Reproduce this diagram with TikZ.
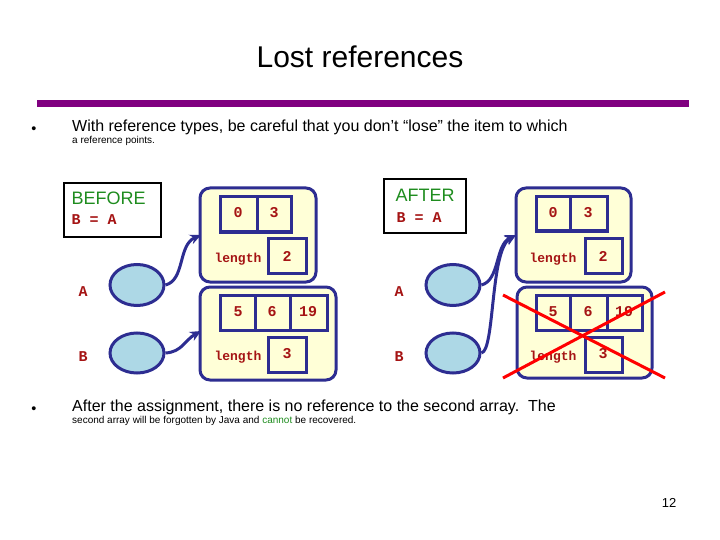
\documentclass[tikz,border=0pt]{standalone}
\usepackage{fontspec}
\setmainfont{Liberation Sans}
\setmonofont{Liberation Mono}
\usetikzlibrary{arrows.meta,shapes.geometric}
\definecolor{dred}{RGB}{165,20,20}
\definecolor{dblue}{RGB}{45,45,145}
\definecolor{fillY}{RGB}{255,255,215}
\definecolor{fillB}{RGB}{173,216,230}
\definecolor{dgreen}{RGB}{30,140,30}
\definecolor{purp}{RGB}{128,0,128}
\begin{document}
\begin{tikzpicture}[x=1pt,y=-1pt,
  outer/.style={draw=dblue,line width=3pt,fill=fillY,rounded corners=10pt},
  cellbox/.style={draw=dblue,line width=3pt},
  val/.style={font=\ttfamily\bfseries\fontsize{15}{17}\selectfont,text=dred},
  lenf/.style={font=\ttfamily\bfseries\fontsize{13}{15}\selectfont,text=dred},
  ov/.style={draw=dblue,line width=3pt,fill=fillB},
  arr/.style={draw=dblue,line width=3pt,-{Stealth[length=11pt,width=10pt]}},
  lbl/.style={draw=black,line width=1.6pt,fill=white}]
\useasboundingbox (0,0) rectangle (720,540);
\node (title) at (360,57) {\fontsize{30}{34}\selectfont Lost references};
\draw[purp,line width=7pt] (37,104) -- (689,104);
\node (b1) at (34,130) {\Large\textbullet};
\node[anchor=north west,align=left,inner sep=0pt] (t1) at (72,120) {\fontsize{16}{19.5}\selectfont With reference types, be careful that you don't “lose” the item to which\\ a reference points.};
\node (b2) at (34,410) {\Large\textbullet};
\node[anchor=north west,align=left,inner sep=0pt] (t2) at (72,400) {\fontsize{16}{19.5}\selectfont After the assignment, there is no reference to the second array.\ \ The\\ second array will be forgotten by Java and \textcolor{dgreen}{cannot} be recovered.};
\node (pg) at (669,503) {\fontsize{13}{15}\selectfont 12};
% BEFORE
\draw[lbl] (64,183) rectangle (161,237);
\node[text=dgreen,font=\fontsize{18}{20}\selectfont,anchor=west] (bef) at (68,198) {BEFORE};
\node[val,anchor=west] (bea) at (68,220) {B = A};
\draw[outer] (200,188) rectangle (316,282);
\draw[cellbox] (220,197) rectangle (257,232) (257,197) rectangle (291,232) (268,238) rectangle (306,273);
\node[val] at (238,213) {0};\node[val] at (274,213) {3};\node[val] at (287,256) {2};
\node[lenf] at (238,259) {length};
\draw[outer] (200,287) rectangle (336,380);
\draw[cellbox] (220,295) rectangle (255,330) (255,295) rectangle (290,330) (290,295) rectangle (327,330) (268,337) rectangle (306,372);
\node[val] at (238,312) {5};\node[val] at (272,312) {6};\node[val] at (308,312) {19};\node[val] at (287,354) {3};
\node[lenf] at (238,357) {length};
\node[ov,ellipse,minimum width=54pt,minimum height=41pt,inner sep=0pt] (eA) at (137,285) {};
\node[ov,ellipse,minimum width=54pt,minimum height=40pt,inner sep=0pt] (eB) at (137,353) {};
\node[val] at (83,292) {A};\node[val] at (83,357) {B};
\coordinate (tA) at (201,235);\coordinate (tB) at (201,331);
\draw[arr] (eA.east) .. controls (185,280) and (178,245) .. (tA);
\draw[arr] (eB.east) .. controls (182,352) and (185,340) .. (tB);
% AFTER
\draw[lbl] (384,179) rectangle (466,233);
\node[text=dgreen,font=\fontsize{18}{20}\selectfont] (aft) at (425,195) {AFTER};
\node[val] (aba) at (419,218) {B = A};
\draw[outer] (516,188) rectangle (631,282);
\draw[cellbox] (536,197) rectangle (570,231) (570,197) rectangle (607,231) (585,238) rectangle (622,273);
\node[val] at (553,213) {0};\node[val] at (588,213) {3};\node[val] at (603,256) {2};
\node[lenf] at (553,259) {length};
\draw[outer] (517,287) rectangle (652,378);
\draw[cellbox] (536,295) rectangle (570,330) (570,295) rectangle (607,330) (607,295) rectangle (642,330) (585,337) rectangle (622,372);
\node[val] at (553,312) {5};\node[val] at (588,312) {6};\node[val] at (624,312) {19};\node[val] at (603,354) {3};
\node[lenf] at (553,357) {length};
\node[ov,ellipse,minimum width=54pt,minimum height=41pt,inner sep=0pt] (fA) at (453,285) {};
\node[ov,ellipse,minimum width=54pt,minimum height=40pt,inner sep=0pt] (fB) at (453,353) {};
\node[val] at (399,292) {A};\node[val] at (399,357) {B};
\coordinate (uA) at (516,235);
\draw[arr] (fA.east) .. controls (500,280) and (495,245) .. (uA);
\draw[arr] (fB.east) .. controls (495,350) and (490,250) .. (uA);
\draw[red,line width=3pt] (503,295) -- (665,378) (503,378) -- (665,292);
\end{tikzpicture}
\end{document}
